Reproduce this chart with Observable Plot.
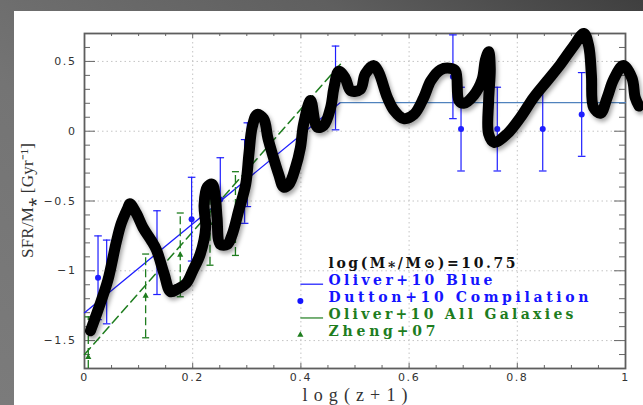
<!DOCTYPE html>
<html>
<head>
<meta charset="utf-8">
<script src="https://cdn.jsdelivr.net/npm/d3@7"></script>
<script src="https://cdn.jsdelivr.net/npm/@observablehq/plot@0.6"></script>
<style>
  html, body { margin: 0; padding: 0; }
  body {
    width: 643px; height: 405px; overflow: hidden; position: relative;
    background: linear-gradient(to bottom left, #3f3f3f 0%, #5f5f5f 25%, #747474 60%, #7b7b7b 100%);
  }
  #card { position: absolute; left: 14px; top: 11px; width: 629px; height: 394px; background: #fff; }
  #card svg { display: block; }
  /* spacing for the axis tick labels */
  g[font-family="DejaVu Sans"] text { letter-spacing: 1.6px; }
  /* soft shadow under the thick marker stroke */
  g[stroke-width="11"] path { filter: drop-shadow(2px 3px 2px rgba(0,0,0,0.35)); }
</style>
</head>
<body>
<div id="card"></div>
<script>
// Dutton+10 compilation: specific SFR with 1-sigma errors
const duttonX   = [0.025, 0.041, 0.134, 0.198, 0.251, 0.296, 0.301, 0.464, 0.681, 0.696, 0.763, 0.847, 0.919];
const duttonY   = [-1.05, -1.08, -0.87, -0.63, -0.49, -0.36, -0.24, 0.31, 0.39, 0.015, 0.015, 0.015, 0.12];
const duttonErr = [0.30, 0.30, 0.30, 0.30, 0.30, 0.30, 0.30, 0.30, 0.30, 0.30, 0.30, 0.30, 0.30];

// Zheng+07 points
const zhengX   = [0.007, 0.113, 0.177, 0.232, 0.279];
const zhengY   = [-1.62, -1.18, -0.886, -0.66, -0.59];
const zhengErr = [0.29, 0.30, 0.30, 0.30, 0.30];

// Oliver+10 relations
const oliverBlueX = [0, 0.473, 1];
const oliverBlueY = [-1.3, 0.205, 0.205];
const oliverAllX  = [0, 0.473];
const oliverAllY  = [-1.6, 0.48];

// Hand-drawn overlay stroke
const sketchX = [0.011,0.025,0.043,0.059,0.068,0.080,0.084,0.096,0.108,0.123,0.133,0.147,0.159,0.172,0.188,0.200,0.214,0.224,0.221,0.227,0.236,0.242,0.245,0.251,0.264,0.273,0.285,0.298,0.304,0.310,0.319,0.331,0.339,0.347,0.359,0.368,0.378,0.390,0.399,0.405,0.418,0.430,0.442,0.455,0.461,0.470,0.482,0.492,0.510,0.519,0.535,0.544,0.560,0.572,0.590,0.609,0.627,0.640,0.658,0.677,0.686,0.692,0.701,0.720,0.735,0.741,0.747,0.750,0.747,0.747,0.757,0.781,0.806,0.830,0.855,0.880,0.904,0.923,0.932,0.937,0.941,0.954,0.966,0.978,0.996,1.012,1.018,1.025];
const sketchY = [-1.43,-1.28,-1.07,-0.79,-0.66,-0.55,-0.52,-0.59,-0.69,-0.78,-0.85,-1.02,-1.15,-1.13,-1.09,-1.00,-0.88,-0.69,-0.53,-0.40,-0.38,-0.48,-0.62,-0.81,-0.81,-0.74,-0.57,-0.38,-0.16,0.03,0.12,0.09,-0.05,-0.16,-0.31,-0.40,-0.38,-0.26,-0.12,0.05,0.22,0.03,0.04,0.17,0.31,0.43,0.38,0.29,0.30,0.41,0.47,0.42,0.24,0.15,0.09,0.12,0.24,0.36,0.44,0.45,0.43,0.22,0.20,0.26,0.37,0.51,0.57,0.45,0.22,-0.02,-0.08,-0.02,0.10,0.24,0.36,0.48,0.61,0.70,0.61,0.40,0.17,0.13,0.24,0.37,0.47,0.38,0.24,0.18];

// Axis ticks and labels
const xMajor = [0, 0.2, 0.4, 0.6, 0.8, 1];
const xMinor = [0.05, 0.1, 0.15, 0.25, 0.3, 0.35, 0.45, 0.5, 0.55, 0.65, 0.7, 0.75, 0.85, 0.9, 0.95];
const yMajor = [-1.5, -1, -0.5, 0, 0.5];
const yMinor = [-1.6, -1.4, -1.3, -1.2, -1.1, -0.9, -0.8, -0.7, -0.6, -0.4, -0.3, -0.2, -0.1, 0.1, 0.2, 0.3, 0.4, 0.6];
const xTitle = "log(z+1)";
const yTitle = "SFR/M⁎ [Gyr⁻¹]";

// Legend entries
const legendLabels = ["log(M⁎/M⊙)=10.75", "Oliver+10 Blue", "Dutton+10 Compilation", "Oliver+10 All Galaxies", "Zheng+07"];
const legendColors = ["#111111", "#1414ff", "#1414ff", "#1e7d1e", "#1e7d1e"];
const legendKinds  = ["none", "line", "dot", "dash", "triangle"];

// Rendered widths (px) of the wide-set titles and legend labels
const setWidths = new Map([
  [xTitle, 105], [yTitle, 115],
  [legendLabels[0], 187], [legendLabels[1], 164], [legendLabels[2], 260], [legendLabels[3], 245], [legendLabels[4], 107]
]);

const BLUE = "#1e1eff";
const STEEL = "#4f82bd";
const GREEN = "#1e7d1e";

const W = 629, H = 394;
const mL = 70, mR = 18, mT = 22, mB = 37;
const plotW = W - mL - mR, plotH = H - mT - mB;
const yDomain = [-1.7, 0.7];
const yTitleGap = 56;

const dutton = duttonX.map((x, i) => ({x, y: duttonY[i], err: duttonErr[i]}));
const zheng  = zhengX.map((x, i) => ({x, y: zhengY[i], err: zhengErr[i]}));
const sketch = sketchX.map((x, i) => ({x, y: sketchY[i]}));
const blueRise = oliverBlueX.slice(0, 2).map((x, i) => ({x, y: oliverBlueY[i]}));
const blueFlat = oliverBlueX.slice(1).map((x, i) => ({x, y: oliverBlueY[i + 1]}));
const allLine  = oliverAllX.map((x, i) => ({x, y: oliverAllY[i]}));

// legend layout in data space
const legSymX = 0.399, legSymX2 = 0.441, legTextX = 0.451, legTop = -0.95, legStep = 0.121, legSymDy = -0.025;
const legend = legendLabels.map((label, i) => ({
  label, color: legendColors[i], kind: legendKinds[i], y: legTop - i * legStep
}));

// horizontal error-bar cap drawn as a short segment
const cap = {draw(ctx, size) { const r = Math.sqrt(size / Math.PI); ctx.moveTo(-r, 0); ctx.lineTo(r, 0); }};

const fmt = d3.format("~g");
const lo = d => Math.max(d.y - d.err, yDomain[0]);

const chart = Plot.plot({
  width: W, height: H,
  marginLeft: mL, marginRight: mR, marginTop: mT, marginBottom: mB,
  style: {background: "transparent", fontFamily: "DejaVu Sans", fontSize: "11px", color: "#333"},
  x: {domain: [0, 1], label: null},
  y: {domain: yDomain, label: null},
  color: {type: "identity"},
  marks: [
    // dotted grid
    Plot.ruleX(xMajor.slice(1, -1), {stroke: "#c4c4c4", strokeDasharray: "1.5,3"}),
    Plot.ruleY(yMajor, {stroke: "#c4c4c4", strokeDasharray: "1.5,3"}),
    // tick labels
    Plot.axisX(xMajor, {tickSize: 0, tickPadding: 5, tickFormat: fmt, fill: "#333", label: null, fontFamily: "DejaVu Sans"}),
    Plot.axisY(yMajor, {tickSize: 0, tickPadding: 8, tickFormat: fmt, fill: "#333", label: null, fontFamily: "DejaVu Sans"}),
    // inward ticks on all four sides
    Plot.tickY(yMajor, {y: d => d, stroke: "#666", insetRight: plotW - 11}),
    Plot.tickY(yMinor, {y: d => d, stroke: "#666", insetRight: plotW - 6}),
    Plot.tickY(yMajor, {y: d => d, stroke: "#666", insetLeft: plotW - 11}),
    Plot.tickY(yMinor, {y: d => d, stroke: "#666", insetLeft: plotW - 6}),
    Plot.tickX(xMajor, {x: d => d, stroke: "#666", insetTop: plotH - 5}),
    Plot.tickX(xMinor, {x: d => d, stroke: "#666", insetTop: plotH - 3}),
    Plot.tickX(xMajor, {x: d => d, stroke: "#666", insetBottom: plotH - 5}),
    Plot.tickX(xMinor, {x: d => d, stroke: "#666", insetBottom: plotH - 3}),
    Plot.frame({stroke: "#5e5e5e", strokeWidth: 1.8}),
    // Oliver+10 all galaxies (dashed green)
    Plot.line(allLine, {x: "x", y: "y", stroke: GREEN, strokeWidth: 1.5, strokeDasharray: "9,5"}),
    // Oliver+10 blue
    Plot.line(blueRise, {x: "x", y: "y", stroke: BLUE, strokeWidth: 1.3}),
    Plot.line(blueFlat, {x: "x", y: "y", stroke: STEEL, strokeWidth: 1.2}),
    // Zheng+07 with dashed error bars
    Plot.ruleX(zheng, {x: "x", y1: lo, y2: d => d.y + d.err, stroke: GREEN, strokeWidth: 1.3, strokeDasharray: "8,4"}),
    Plot.dot(zheng, {x: "x", y: d => d.y + d.err, symbol: cap, r: 3.5, stroke: GREEN, strokeWidth: 1.3, fill: "none"}),
    Plot.dot(zheng.filter(d => d.y - d.err > yDomain[0]), {x: "x", y: d => d.y - d.err, symbol: cap, r: 3.5, stroke: GREEN, strokeWidth: 1.3, fill: "none"}),
    Plot.dot(zheng, {x: "x", y: "y", symbol: "triangle", r: 2.3, fill: GREEN, stroke: "none"}),
    // Dutton+10 with error bars
    Plot.ruleX(dutton, {x: "x", y1: lo, y2: d => d.y + d.err, stroke: BLUE, strokeWidth: 1.2}),
    Plot.dot(dutton, {x: "x", y: d => d.y + d.err, symbol: cap, r: 3.8, stroke: BLUE, strokeWidth: 1.2, fill: "none"}),
    Plot.dot(dutton, {x: "x", y: d => d.y - d.err, symbol: cap, r: 3.8, stroke: BLUE, strokeWidth: 1.2, fill: "none"}),
    Plot.dot(dutton, {x: "x", y: "y", r: 3, fill: BLUE, stroke: "none"}),
    // legend
    Plot.text(legend, {x: legTextX, y: "y", text: "label", fill: "color", textAnchor: "start", lineAnchor: "middle",
      fontFamily: "DejaVu Serif", fontWeight: "bold", fontSize: 14}),
    Plot.link(legend.filter(d => d.kind === "line" || d.kind === "dash"),
      {x1: legSymX, x2: legSymX2, y1: d => d.y + legSymDy, y2: d => d.y + legSymDy, stroke: "color", strokeWidth: 1.2}),
    Plot.dot(legend.filter(d => d.kind === "dot"), {x: legSymX, y: d => d.y + legSymDy, r: 3, fill: "color", stroke: "none"}),
    Plot.dot(legend.filter(d => d.kind === "triangle"), {x: legSymX, y: d => d.y + legSymDy, symbol: "triangle", r: 2.3, fill: "color", stroke: "none"}),
    // axis titles
    Plot.text([xTitle], {frameAnchor: "bottom", dy: 27, textAnchor: "middle", lineAnchor: "middle", fontFamily: "Liberation Serif", fontSize: 18, fill: "#333"}),
    Plot.text([yTitle], {frameAnchor: "left", rotate: -90, textAnchor: "middle", lineAnchor: "middle", fontFamily: "Liberation Serif", fontSize: 17, fill: "#333"}),
    // hand-drawn overlay
    Plot.line(sketch, {x: "x", y: "y", curve: "catmull-rom", stroke: "#000", strokeWidth: 11,
      strokeLinecap: "round", strokeLinejoin: "round"})
  ]
});

// spread the titles and legend labels to their set widths
d3.select(chart).selectAll("text").each(function () {
  const w = setWidths.get(this.textContent);
  if (w === undefined) return;
  this.setAttribute("textLength", w);
  this.setAttribute("lengthAdjust", "spacing");
  if (this.textContent === xTitle) this.setAttribute("text-anchor", "middle");
  if (this.textContent === yTitle) {
    // vertical title: centred on the frame, left of the tick labels
    const g = this.parentNode;
    g.removeAttribute("transform");
    g.setAttribute("text-anchor", "middle");
    this.setAttribute("text-anchor", "middle");
    this.setAttribute("transform", `translate(${mL - yTitleGap},${mT + plotH / 2}) rotate(-90)`);
  }
});

document.getElementById("card").appendChild(chart);
</script>
</body>
</html>
